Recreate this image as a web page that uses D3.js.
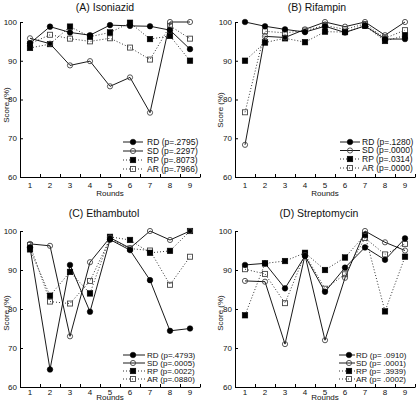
<!DOCTYPE html>
<html><head><meta charset="utf-8">
<script src="https://cdn.jsdelivr.net/npm/d3@7"></script>
<style>body{margin:0;background:#fff}svg{display:block}text{font-family:"Liberation Sans",Arial,sans-serif;fill:#111}</style>
</head><body>
<svg id="c" width="416" height="401"></svg>
<script>
const rounds = [1,2,3,4,5,6,7,8,9];
const seriesNames = ["RD","SD","RP","AR"];
const yTicks = [60,70,80,90,100];

const titles = ["(A) Isoniazid","(B) Rifampin","(C) Ethambutol","(D) Streptomycin"];

const isoRD = [94.5, 98.8, 97.3, 96.6, 99.2, 99.0, 98.9, 97.9, 93.0];
const isoSD = [95.8, 94.4, 88.8, 89.9, 83.4, 85.7, 76.6, 100, 100];
const isoRP = [93.3, 94.3, 98.8, 96.2, 97.3, 99.8, 95.6, 96.4, 90.0];
const isoAR = [94.4, 96.7, 95.7, 95.0, 95.8, 93.4, 90.3, 99.0, 95.7];
const isoP = ["p=.2795","p=.2297","p=.8073","p=.7966"];

const rifRD = [100, 98.9, 98.1, 97.4, 98.9, 97.3, 99.0, 95.6, 95.6];
const rifSD = [68.3, 96.3, 96.0, 98.1, 100, 98.8, 100, 96.6, 100];
const rifRP = [90.0, 94.7, 95.8, 94.8, 97.5, 97.4, 99.0, 95.1, 96.5];
const rifAR = [76.7, 97.6, 97.2, 97.8, 99.1, 98.1, 99.5, 95.8, 97.9];
const rifP = ["p=.1280","p=.0000","p=.0314","p=.0000"];

const ethRD = [95.8, 64.5, 91.3, 79.3, 97.8, 95.1, 87.4, 74.4, 75.0];
const ethSD = [96.7, 96.2, 73.0, 92.0, 98.3, 95.6, 100, 97.7, 100];
const ethRP = [95.3, 83.4, 89.5, 84.0, 98.5, 97.7, 94.4, 94.9, 100];
const ethAR = [96.4, 81.9, 81.4, 87.2, 98.0, 95.5, 95.0, 86.2, 93.4];
const ethP = ["p=.4793","p=.0005","p=.0022","p=.0880"];

const strRD = [91.3, 91.7, 85.3, 93.6, 84.4, 90.6, 95.8, 92.6, 98.1];
const strSD = [87.2, 87.0, 71.0, 93.8, 72.0, 88.0, 100, 97.1, 95.0];
const strRP = [78.4, 91.7, 92.3, 94.4, 90.0, 93.2, 99.0, 79.4, 93.4];
const strAR = [90.2, 89.0, 81.5, 94.0, 85.2, 88.9, 98.2, 94.0, 96.7];
const strP = ["p= .0910","p= .0001","p= .3939","p= .0002"];

const panelData = [
  [isoRD, isoSD, isoRP, isoAR, isoP],
  [rifRD, rifSD, rifRP, rifAR, rifP],
  [ethRD, ethSD, ethRP, ethAR, ethP],
  [strRD, strSD, strRP, strAR, strP]
];

// layout
const layout = [
  {x0:20, x1:200, yTop:22, yBot:177, titleX:105, titleY:11, legL:123, legR:143, legM:133, legT:147, legY:[142,151,160,169], legF:8.5, tickDy:8, labDy:16, ylabX:6, ylabY:105},
  {x0:235, x1:415, yTop:22, yBot:177, titleX:317, titleY:11, legL:340, legR:360, legM:350, legT:362, legY:[142,150.5,159,168], legF:8.5, tickDy:8, labDy:16, ylabX:220, ylabY:110},
  {x0:20, x1:200, yTop:231, yBot:387, titleX:104, titleY:217, legL:123, legR:145, legM:133, legT:147, legY:[355,363,371,379], legF:8, tickDy:5.5, labDy:10.5, ylabX:6, ylabY:313},
  {x0:235, x1:415, yTop:231, yBot:387, titleX:319, titleY:217, legL:339, legR:355, legM:349, legT:356, legY:[355,363,371,379], legF:8, tickDy:5.5, labDy:10.5, ylabX:220, ylabY:313}
];

const styles = [
  {dash:null, shape:"circle", fill:true},
  {dash:null, shape:"circle", fill:false},
  {dash:"1,2", shape:"square", fill:true},
  {dash:"1,2", shape:"square", fill:false}
];

const svg = d3.select("#c");
svg.append("rect").attr("width",416).attr("height",401).attr("fill","#fff");

function marker(g, shape, fill, cx, cy){
  if(shape==="circle"){
    g.append("circle").attr("cx",cx).attr("cy",cy).attr("r",fill?2.8:2.6)
      .attr("fill",fill?"#000":"none").attr("stroke",fill?"#000":"#444").attr("stroke-width",fill?0.5:0.9);
  } else {
    const s = fill?5.6:5.0;
    g.append("rect").attr("x",cx-s/2).attr("y",cy-s/2).attr("width",s).attr("height",s)
      .attr("fill",fill?"#000":"none").attr("stroke",fill?"#000":"#444").attr("stroke-width",fill?0.5:0.9);
  }
}

layout.forEach((L, pi) => {
  const d = panelData[pi];
  const x = d3.scaleLinear().domain([0.5, 9.5]).range([L.x0, L.x1]);
  const y = d3.scaleLinear().domain([60, 100]).range([L.yBot, L.yTop]);
  const g = svg.append("g");

  // x axis
  const xa = g.append("g").attr("transform",`translate(0,${L.yBot})`)
    .call(d3.axisBottom(x).tickValues([0.5,1.5,2.5,3.5,4.5,5.5,6.5,7.5,8.5,9.5]).tickSizeInner(-3).tickSizeOuter(0).tickFormat(""));
  xa.select(".domain").attr("stroke","#000").attr("stroke-width",1);
  xa.selectAll(".tick line").attr("stroke","#000");
  g.append("g").selectAll("text").data(rounds).join("text")
    .attr("x", r => x(r)).attr("y", L.yBot + L.tickDy).attr("dy","0.35em")
    .attr("text-anchor","middle").attr("font-size","8px").text(r => r);
  g.append("text").attr("x",(L.x0+L.x1)/2).attr("y", L.yBot + L.labDy).attr("dy","0.35em")
    .attr("text-anchor","middle").attr("font-size","8px").text("Rounds");

  // y axis
  const ya = g.append("g").attr("transform",`translate(${L.x0},0)`)
    .call(d3.axisLeft(y).tickValues(yTicks).tickSizeInner(-3).tickSizeOuter(0).tickFormat(""));
  ya.select(".domain").attr("stroke","#000").attr("stroke-width",1);
  ya.selectAll(".tick line").attr("stroke","#000");
  g.append("g").selectAll("text").data(yTicks).join("text")
    .attr("x", L.x0 - 3).attr("y", v => y(v)).attr("dy","0.35em")
    .attr("text-anchor","end").attr("font-size","8px").text(v => v);
  g.append("text").attr("transform",`translate(${L.ylabX},${L.ylabY}) rotate(-90)`)
    .attr("text-anchor","middle").attr("dy","0.35em").attr("font-size","8px").text("Score (%)");

  // title
  g.append("text").attr("x",L.titleX).attr("y",L.titleY).attr("text-anchor","middle")
    .attr("font-size","10.5px").text(titles[pi]);

  // lines
  const line = d3.line().x((v,i) => x(rounds[i])).y(v => y(v));
  [3,2,1,0].forEach(si => {
    const st = styles[si];
    g.append("path").attr("d", line(d[si])).attr("fill","none")
      .attr("stroke", st.dash ? "#333" : "#000").attr("stroke-width", st.dash?1:0.9)
      .attr("stroke-dasharray", st.dash);
  });
  [3,2,1,0].forEach(si => {
    const st = styles[si];
    d[si].forEach((v,i) => marker(g, st.shape, st.fill, x(rounds[i]), y(v)));
  });

  // legend
  seriesNames.forEach((nm, si) => {
    const st = styles[si];
    const ly = L.legY[si];
    g.append("line").attr("x1",L.legL).attr("x2",L.legR).attr("y1",ly).attr("y2",ly)
      .attr("stroke", st.dash ? "#333" : "#000").attr("stroke-width",st.dash?1:0.9)
      .attr("stroke-dasharray", st.dash);
    marker(g, st.shape, st.fill, L.legM, ly);
    g.append("text").attr("x",L.legT).attr("y",ly).attr("dy","0.35em")
      .attr("font-size",L.legF+"px").text(`${nm} (${d[4][si]})`);
  });
});
</script>
</body></html>
